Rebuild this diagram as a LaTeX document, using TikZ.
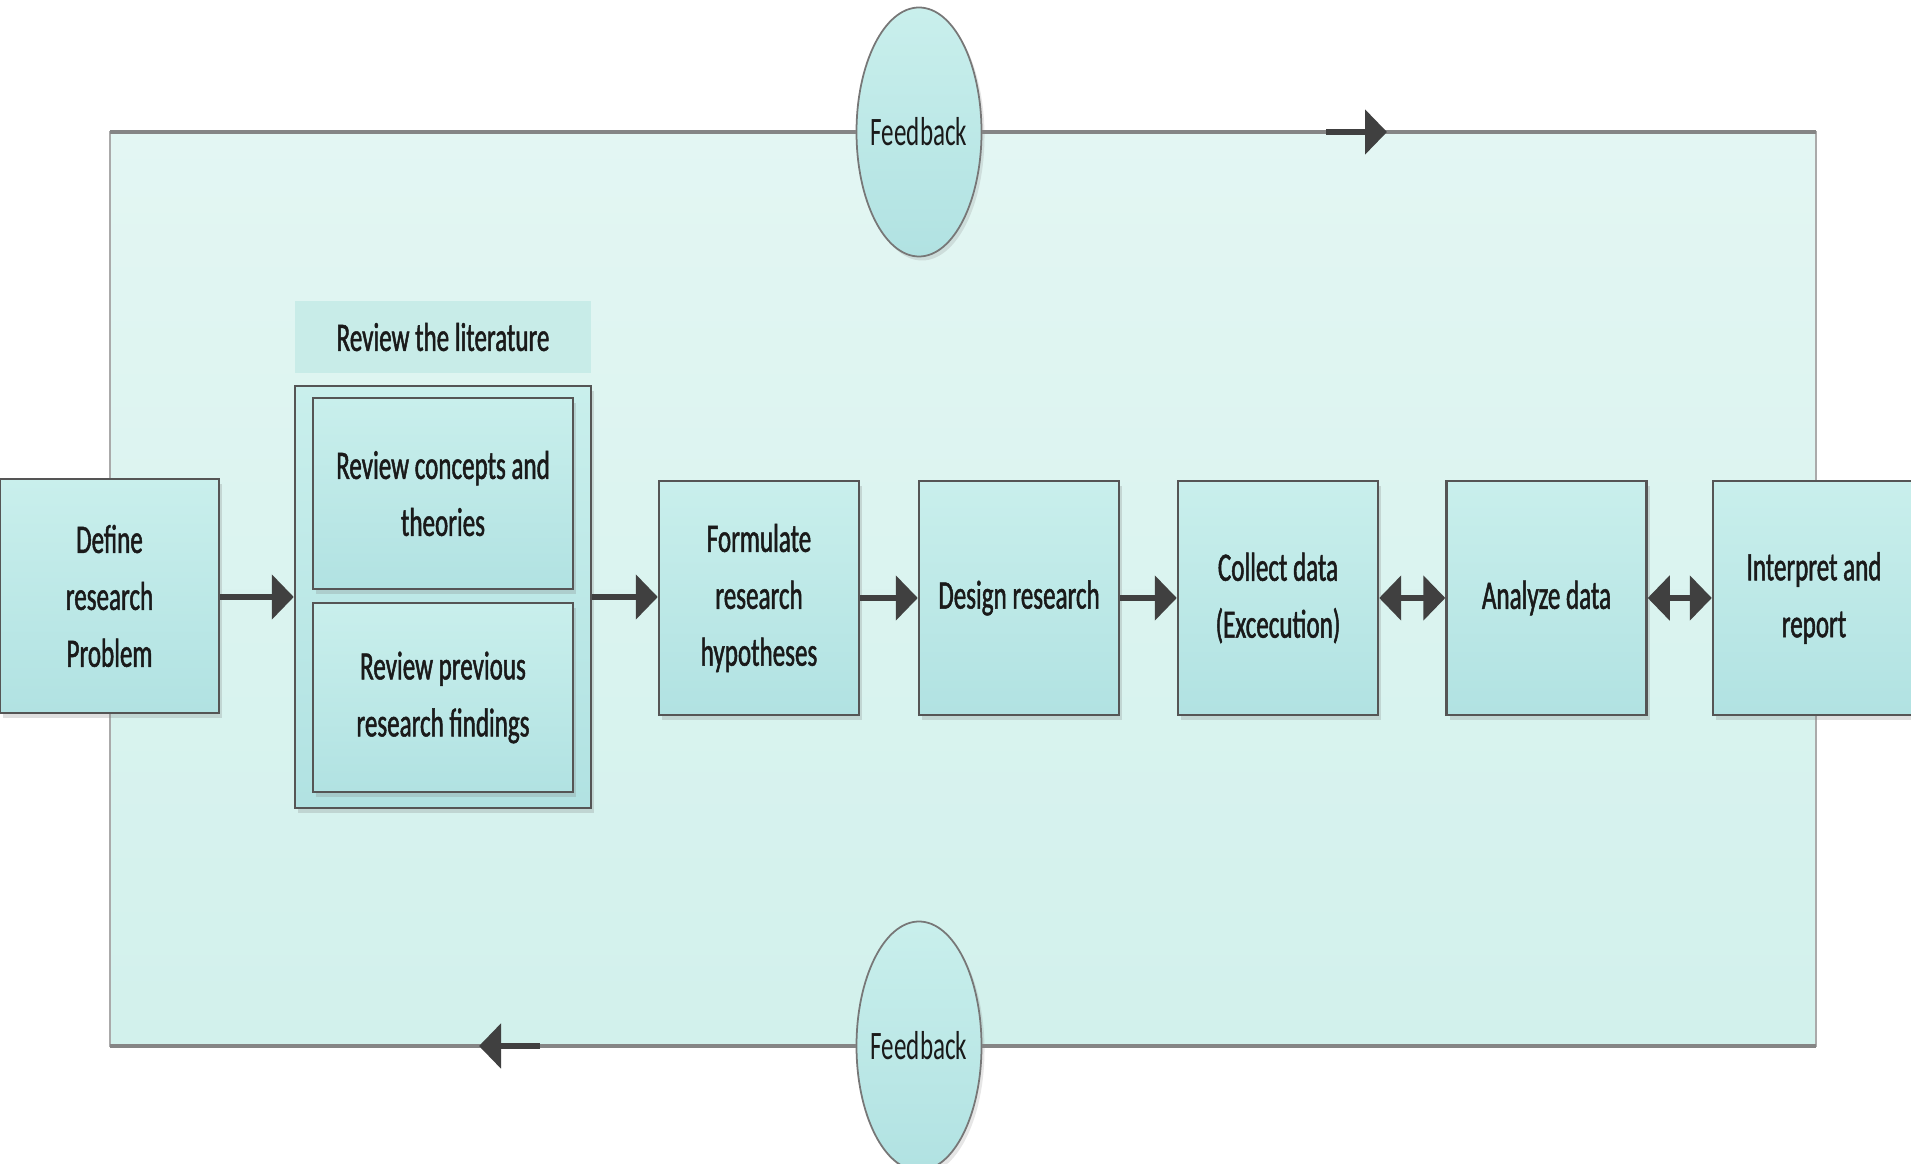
\documentclass[tikz,border=0pt]{standalone}
\usepackage{fontspec}
\setmainfont{Carlito}[FakeStretch=0.62]
\newfontfamily\stepfont{Carlito}[FakeStretch=0.62,FakeBold=1.2]
\usetikzlibrary{arrows.meta,shapes.geometric,shadows}

\definecolor{bgtop}{HTML}{E3F6F3}
\definecolor{bgbot}{HTML}{D2F1EC}
\definecolor{boxtop}{HTML}{C9EFEC}
\definecolor{boxbot}{HTML}{B1E2E2}
\definecolor{headfill}{HTML}{C8ECE8}
\definecolor{edge}{HTML}{555555}
\definecolor{arr}{HTML}{404040}
\definecolor{loopline}{HTML}{858585}
\definecolor{txt}{HTML}{1A1A1A}

\begin{document}
\begin{tikzpicture}
	\tikzstyle{every node}=[font=\fontsize{11.5}{16.2}\selectfont,text=txt];
	\tikzstyle{stepbox}=[draw=edge,line width=0.7pt,top color=boxtop,bottom color=boxbot,
	  minimum width=2cm,minimum height=2.34cm,align=center,inner sep=0pt,
	  font=\stepfont\fontsize{11.5}{16.2}\selectfont,
	  drop shadow={opacity=0.25,shadow xshift=0.03cm,shadow yshift=-0.05cm}];
	\tikzstyle{fbnode}=[ellipse,draw=edge!80,line width=0.5pt,top color=boxtop,bottom color=boxbot,
	  minimum width=1.25cm,minimum height=2.49cm,inner sep=0pt,
	  drop shadow={opacity=0.2,shadow xshift=0.03cm,shadow yshift=-0.04cm}];
	\tikzstyle{flow}=[draw=arr,line width=1.7pt,-{Triangle[length=2.2mm,width=4.4mm]}];
	\tikzstyle{twoway}=[draw=arr,line width=1.7pt,{Triangle[length=2.2mm,width=4.4mm]}-{Triangle[length=2.2mm,width=4.4mm]}];
	\tikzstyle{fbline}=[draw=loopline,line width=1.2pt];

	\useasboundingbox (0,0) rectangle (19.11,-11.64);

	% feedback loop frame
	\shade[top color=bgtop,bottom color=bgbot,draw=loopline!70,line width=0.5pt] (1.10,-1.32) rectangle (18.16,-10.46);
	\coordinate (tl) at (1.10,-1.32);
	\coordinate (tr) at (18.16,-1.32);
	\coordinate (bl) at (1.10,-10.46);
	\coordinate (br) at (18.16,-10.46);

	\node at (9.19,-1.32)  (fbtop) [fbnode,label=center:Feedback] {};
	\node at (9.19,-10.46) (fbbot) [fbnode,label=center:Feedback] {};

	\draw[fbline] (tl) -- (fbtop.west);
	\draw[fbline] (fbtop.east) -- (tr);
	\draw[fbline] (bl) -- (fbbot.west);
	\draw[fbline] (fbbot.east) -- (br);

	\coordinate (ta0) at (13.26,-1.32);
	\coordinate (ta1) at (13.87,-1.32);
	\coordinate (ba0) at (5.40,-10.46);
	\coordinate (ba1) at (4.79,-10.46);
	\draw[flow] (ta0) -- (ta1);
	\draw[flow] (ba0) -- (ba1);

	% steps
	\node at (1.095,-5.96) (define) [stepbox,minimum width=2.19cm] {Define\\research\\Problem};

	\node at (4.43,-3.37) (lithead) [fill=headfill,minimum width=2.96cm,minimum height=0.72cm,inner sep=0pt,font=\stepfont\fontsize{11.5}{16.2}\selectfont] {Review the literature};
	\node at (4.43,-5.97) (litbox) [stepbox,minimum width=2.96cm,minimum height=4.22cm] {};
	\node at (4.43,-4.935) (concepts) [stepbox,minimum width=2.60cm,minimum height=1.91cm] {Review concepts and\\theories};
	\node at (4.43,-6.975) (previous) [stepbox,minimum width=2.60cm,minimum height=1.89cm] {Review previous\\research findings};

	\node at (7.59,-5.98)  (formulate) [stepbox] {Formulate\\research\\hypotheses};
	\node at (10.19,-5.98) (design)    [stepbox] {Design research};
	\node at (12.78,-5.98) (collect)   [stepbox] {Collect data\\(Excecution)};
	\node at (15.465,-5.98) (analyze)  [stepbox] {Analyze data};
	\node at (18.14,-5.98) (interpret) [stepbox,minimum width=2.02cm] {Interpret and\\report};

	\draw[flow] (define.east |- 0,-5.97) -- (litbox.west);
	\draw[flow] (litbox.east) -- (formulate.west |- litbox.east);
	\draw[flow] (formulate) -- (design);
	\draw[flow] (design) -- (collect);
	\draw[twoway] (collect) -- (analyze);
	\draw[twoway] (analyze) -- (interpret);
\end{tikzpicture}
\end{document}
